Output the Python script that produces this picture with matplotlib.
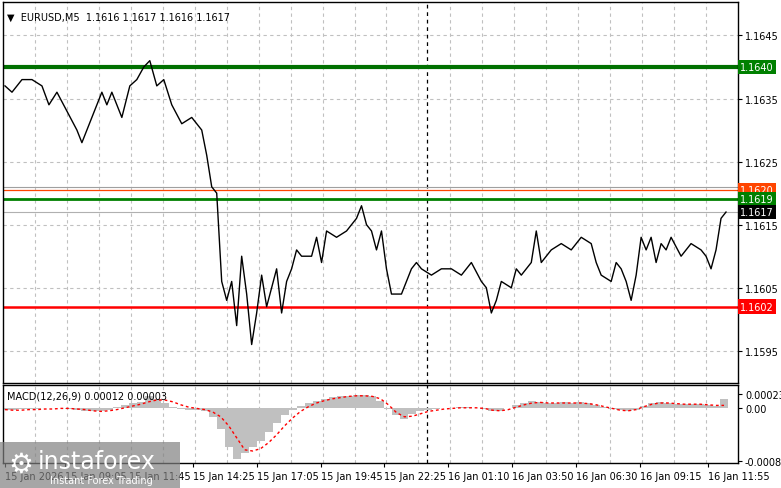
import numpy as np
import matplotlib
matplotlib.use("Agg")
import matplotlib.pyplot as plt
import matplotlib.transforms as mtrans

# ---- data ----
# bar index (5-minute bars since 15 Jan 2026 start of chart)
price_bar = [0,3.5,6,8.5,13.5,18.5,22,26,31,36,38.5,43.5,48.5,51,53.5,58.5,62.5,66,69.5,72.5,76,79.5,83.5,88.5,
             93.5,98.5,101,103.5,106,108.5,111,113.5,116,118.5,121,123.5,126,128.5,131,133.5,136,138.5,141,143.5,
             146,148.5,153.5,156,158.5,161,166,171,176,178.5,181,183.5,186,188.5,191,193.5,196,198.5,201,203.5,
             206,208.5,213.5,218.5,223.5,228.5,233.5,238.5,241,243.5,246,248.5,253.5,256,258.5,263.5,266,268.5,
             271,273.5,278.5,283.5,288.5,293.5,296,298.5,303.5,306,308.5,311,313.5,316,318.5,321,323.5,326,328.5,
             331,333.5,338.5,343.5,348.5,351,353.5,356,358.5,361]
price = [1.1637,1.1636,1.1637,1.1638,1.1638,1.1637,1.1634,1.1636,1.1633,1.1630,1.1628,1.1632,1.1636,1.1634,1.1636,
         1.1632,1.1637,1.1638,1.1640,1.1641,1.1637,1.1638,1.1634,1.1631,1.1632,1.1630,1.1626,1.1621,1.1620,1.1606,
         1.1603,1.1606,1.1599,1.1610,1.1604,1.1596,1.1601,1.1607,1.1602,1.1605,1.1608,1.1601,1.1606,1.1608,1.1611,
         1.1610,1.1610,1.1613,1.1609,1.1614,1.1613,1.1614,1.1616,1.1618,1.1615,1.1614,1.1611,1.1614,1.1608,1.1604,
         1.1604,1.1604,1.1606,1.1608,1.1609,1.1608,1.1607,1.1608,1.1608,1.1607,1.1609,1.1606,1.1605,1.1601,1.1603,
         1.1606,1.1605,1.1608,1.1607,1.1609,1.1614,1.1609,1.1610,1.1611,1.1612,1.1611,1.1613,1.1612,1.1609,1.1607,
         1.1606,1.1609,1.1608,1.1606,1.1603,1.1607,1.1613,1.1611,1.1613,1.1609,1.1612,1.1611,1.1613,1.1610,1.1612,
         1.1611,1.1610,1.1608,1.1611,1.1616,1.1617]
macd_hist = [-3,-3,-2,-2,-2,-1,-1,-1,-2,-3,-5,-6,-5,-3,2,5,8,10,20,15,8,2,-2,-3,-3,-5,-15,-35,-65,-85,-75,-65,
             -55,-40,-25,-12,-3,3,8,12,15,18,20,20,22,22,20,12,-2,-12,-18,-10,-5,-3,-2,-1,0,1,1,0,-2,-6,-5,-1,5,8,
             12,10,8,8,9,8,10,8,5,2,-2,-4,-6,-3,3,8,9,8,7,6,6,6,5,3,15]
macd_signal = [-3,-4,-4,-3,-3,-2,-2,-1,-1,-2,-3,-5,-6,-5,-3,0,3,6,10,13,13,10,5,1,-1,-3,-7,-15,-30,-50,-70,-72,
               -68,-58,-45,-30,-17,-6,2,8,12,15,17,19,20,20,19,15,5,-8,-15,-14,-10,-6,-4,-2,-1,0,0,0,-1,-4,-5,-3,1,
               5,8,9,8,8,8,8,8,7,5,2,-1,-4,-5,-3,2,6,8,8,7,6,6,6,5,4,4]
time_ticks = [0,30,62,94,126,158,190,222,254,286,318,352]
time_labels = ["15 Jan 2026","15 Jan 09:05","15 Jan 11:45","15 Jan 14:25","15 Jan 17:05","15 Jan 19:45",
               "15 Jan 22:25","16 Jan 01:10","16 Jan 03:50","16 Jan 06:30","16 Jan 09:15","16 Jan 11:55"]
price_ticks = [1.1645,1.1635,1.1625,1.1615,1.1605,1.1595]
levels = [1.1640,1.1619,1.1602]

W, H = 781, 489
fig = plt.figure(figsize=(W/100, H/100), dpi=100)
fig.patch.set_facecolor("white")
def px(l, t, r, b):
    return [l/W, 1-b/H, (r-l)/W, (b-t)/H]

ax = fig.add_axes(px(3, 3, 738, 384))
mx = fig.add_axes(px(3, 386, 738, 464))
XL = (-1, 367)
grid_x = np.arange(15, 367, 16)
for a in (ax, mx):
    a.set_xlim(*XL)
    for s in a.spines.values():
        s.set_color("black"); s.set_linewidth(1)
    for g in grid_x:
        a.axvline(g, color="#c0c0c0", ls=(0, (3, 3)), lw=0.8, zorder=0)
    a.axvline(211.5, color="black", ls=(0, (3, 3)), lw=0.9, zorder=1)
    a.yaxis.tick_right()
    a.tick_params(axis="y", direction="out", length=3, labelsize=7, pad=2)

ax.set_ylim(1.15899, 1.16503)
ax.set_yticks(price_ticks)
ax.set_yticklabels([f"{v:.4f}" for v in price_ticks])
ax.set_xticks([])
for v in price_ticks:
    ax.axhline(v, color="#c0c0c0", ls=(0, (3, 3)), lw=0.8, zorder=0)

ax.axhline(1.1621, color="#a0a0a0", lw=0.8)
ax.axhline(1.16205, color="#ff4500", lw=0.9)
ax.axhline(1.1617, color="#b0b0b0", lw=0.8)
ax.axhline(levels[0], color="#007000", lw=3)
ax.axhline(levels[1], color="#008000", lw=2)
ax.axhline(levels[2], color="#ff0000", lw=1.8)
m = min(len(price_bar), len(price))
ax.plot(price_bar[:m], price[:m], color="black", lw=1)

tr = mtrans.blended_transform_factory(ax.transAxes, ax.transData)
def tag(y, txt, fc, tc="white"):
    ax.text(1.003, y, txt, transform=tr, fontsize=7, color=tc, va="center", ha="left",
            bbox=dict(boxstyle="square,pad=0.25", fc=fc, ec="none"), clip_on=False, zorder=5)
tag(1.16205, "1.1620", "#ff4500")
tag(1.1619, "1.1619", "#008000")
tag(1.1640, "1.1640", "#008000")
tag(1.1617, "1.1617", "black")
tag(1.1602, "1.1602", "#ff0000")
ax.text(0.006, 0.975, "\u25BC  EURUSD,M5  1.1616 1.1617 1.1616 1.1617", transform=ax.transAxes,
        fontsize=7, va="top", ha="left")

# MACD
n = min(len(macd_hist), len(macd_signal))
bars = np.arange(n) * 4
hist = np.array(macd_hist[:n]) * 1e-5
sig = np.array(macd_signal[:n]) * 1e-5
mx.bar(bars, hist, width=4, color="#c0c0c0", align="center", zorder=2)
mx.plot(bars, sig, color="red", ls=(0, (2, 2)), lw=1, zorder=3)
mx.set_ylim(-0.00092, 0.00038)
mx.set_yticks([0.00023, 0.0, -0.00089])
mx.set_yticklabels(["0.00023", "0.00", "-0.00089"])
mx.text(0.006, 0.93, "MACD(12,26,9) 0.00012 0.00003", transform=mx.transAxes, fontsize=7, va="top")
mx.set_xticks(time_ticks)
mx.set_xticklabels(time_labels, ha="left", fontsize=7)
mx.tick_params(axis="x", direction="out", length=3, pad=3)

# watermark
fig.patches.append(plt.Rectangle((0, 0), 180/W, 46/H, transform=fig.transFigure,
                                 fc="#808080", alpha=0.7, ec="none", zorder=10))
fig.text(38/W, 1-462/H, "instaforex", fontsize=17, color="white", va="center", ha="left", zorder=11)
fig.text(50/W, 1-481/H, "Instant Forex Trading", fontsize=7, color="white", va="center", ha="left", zorder=11)
fig.text(8/W, 1-465/H, "\u2699", fontsize=20, color="white", va="center", ha="left", zorder=11)

fig.savefig("out.png", dpi=100)
